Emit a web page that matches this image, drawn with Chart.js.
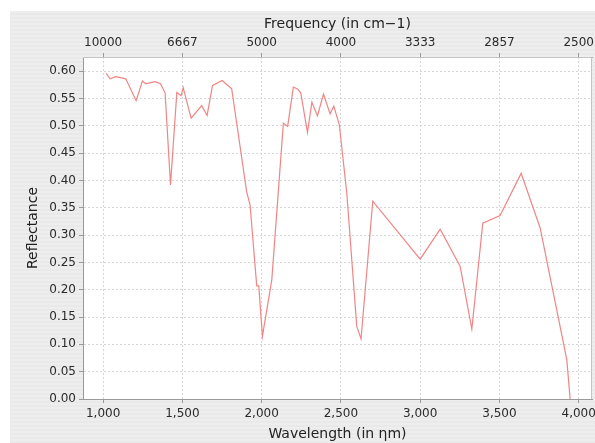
<!DOCTYPE html>
<html>
<head>
<meta charset="utf-8">
<title>Reflectance spectrum</title>
<script src="https://cdn.jsdelivr.net/npm/chart.js@4"></script>
<style>
    body { margin: 0; background: #fff; }
    #panel {
        position: absolute;
        left: 10px;
        top: 11px;
        width: 585px;
        height: 432px;
        background: repeating-linear-gradient(to bottom, #eeeeee 0, #eeeeee 2px, #e9e9e9 2px, #e9e9e9 4px);
    }
    canvas { display: block; }
</style>
</head>
<body>
<div id="panel">
    <canvas id="spectrum" width="585" height="432"></canvas>
</div>
<script>
// wavelength in nm, reflectance as a fraction
const wavelengths = [1019, 1044, 1080, 1143, 1208, 1248, 1269, 1328, 1362, 1391,
    1425, 1465, 1492, 1505, 1555, 1622, 1656, 1690, 1751, 1811,
    1905, 1927, 1969, 1982, 2005, 2064, 2137, 2164, 2200, 2228,
    2247, 2289, 2317, 2352, 2390, 2432, 2455, 2490, 2537, 2600,
    2627, 2701, 3000, 3126, 3252, 3326, 3395, 3504, 3637, 3757,
    3925, 3946];
const reflectance = [0.596, 0.586, 0.590, 0.586, 0.546, 0.582, 0.577, 0.581, 0.577, 0.560,
    0.392, 0.561, 0.555, 0.570, 0.514, 0.537, 0.519, 0.574, 0.583, 0.568,
    0.380, 0.355, 0.207, 0.207, 0.115, 0.218, 0.505, 0.499, 0.571, 0.567,
    0.560, 0.488, 0.543, 0.518, 0.558, 0.522, 0.536, 0.502, 0.377, 0.133,
    0.110, 0.362, 0.256, 0.311, 0.243, 0.128, 0.322, 0.336, 0.413, 0.313,
    0.072, 0.000];

const wavelengthTicks = [1000, 1500, 2000, 2500, 3000, 3500, 4000];
const frequencyLabels = ['10000', '6667', '5000', '4000', '3333', '2857', '2500'];
const reflectanceTicks = [0, 0.05, 0.10, 0.15, 0.20, 0.25, 0.30, 0.35, 0.40, 0.45, 0.50, 0.55, 0.60];

const xMin = 873, xMax = 4084;
const yMin = 0, yMax = 0.626;

const tickFont = { family: 'DejaVu Sans', size: 12 };
const titleFont = { family: 'DejaVu Sans', size: 14 };

function fixedSize(prop, size) {
    return scale => {
        scale[prop] = size;
        scale.paddingLeft = scale.paddingRight = 0;
        scale.paddingTop = scale.paddingBottom = 0;
    };
}

// white plot background and a light frame round it
const plotFrame = {
    id: 'plotFrame',
    beforeDraw(chart) {
        const { ctx, chartArea: a } = chart;
        ctx.save();
        ctx.fillStyle = '#ffffff';
        ctx.fillRect(a.left, a.top, a.right - a.left, a.bottom - a.top);
        ctx.restore();
    },
    afterDraw(chart) {
        const { ctx, chartArea: a } = chart;
        ctx.save();
        ctx.strokeStyle = '#c4c4c4';
        ctx.lineWidth = 1;
        ctx.beginPath();
        ctx.moveTo(a.left, a.top + 0.5);
        ctx.lineTo(a.right - 0.5, a.top + 0.5);
        ctx.lineTo(a.right - 0.5, a.bottom);
        ctx.stroke();
        ctx.restore();
    }
};

const gridStyle = {
    color: '#d6d6d6',
    lineWidth: 1,
    tickLength: 4,
    tickColor: '#9a9a9a',
    tickBorderDash: []
};

new Chart(document.getElementById('spectrum'), {
    type: 'line',
    data: {
        datasets: [{
            data: wavelengths.map((w, i) => ({ x: w, y: reflectance[i] })),
            borderColor: '#f08585',
            borderWidth: 1.2,
            pointRadius: 0,
            tension: 0,
            fill: false
        }]
    },
    options: {
        responsive: false,
        animation: false,
        layout: { padding: { left: 0, right: 3, top: 0, bottom: 0 } },
        plugins: {
            legend: { display: false },
            tooltip: { enabled: false }
        },
        scales: {
            x: {
                type: 'linear',
                position: 'bottom',
                min: xMin,
                max: xMax,
                afterBuildTicks: scale => { scale.ticks = wavelengthTicks.map(v => ({ value: v })); },
                afterFit: fixedSize('height', 44),
                ticks: {
                    font: tickFont,
                    color: '#2a2a2a',
                    padding: 4,
                    maxRotation: 0,
                    callback: v => v.toLocaleString('en-US')
                },
                grid: gridStyle,
                border: { color: '#9a9a9a', dash: [2, 2] },
                title: {
                    display: true,
                    text: 'Wavelength (in ηm)',
                    font: titleFont,
                    color: '#222',
                    padding: { top: 0, bottom: 0.6 }
                }
            },
            x2: {
                type: 'linear',
                position: 'top',
                min: xMin,
                max: xMax,
                afterBuildTicks: scale => { scale.ticks = wavelengthTicks.map(v => ({ value: v })); },
                afterFit: fixedSize('height', 46),
                ticks: {
                    font: tickFont,
                    color: '#2a2a2a',
                    padding: 3,
                    maxRotation: 0,
                    callback: (v, i) => frequencyLabels[i]
                },
                grid: { ...gridStyle, drawOnChartArea: false },
                border: { color: '#b0b0b0' },
                title: {
                    display: true,
                    text: 'Frequency (in cm\u22121)',
                    font: titleFont,
                    color: '#222',
                    padding: { top: 4.6, bottom: 0 }
                }
            },
            y: {
                min: yMin,
                max: yMax,
                afterBuildTicks: scale => { scale.ticks = reflectanceTicks.map(v => ({ value: v })); },
                afterFit: fixedSize('width', 73),
                ticks: {
                    font: tickFont,
                    color: '#2a2a2a',
                    padding: 3,
                    callback: v => v.toFixed(2)
                },
                grid: gridStyle,
                border: { color: '#9a9a9a', dash: [2, 2] },
                title: {
                    display: true,
                    text: 'Reflectance',
                    font: titleFont,
                    color: '#222',
                    padding: { top: 14.6, bottom: 0 }
                }
            }
        }
    },
    plugins: [plotFrame]
});
</script>
</body>
</html>
